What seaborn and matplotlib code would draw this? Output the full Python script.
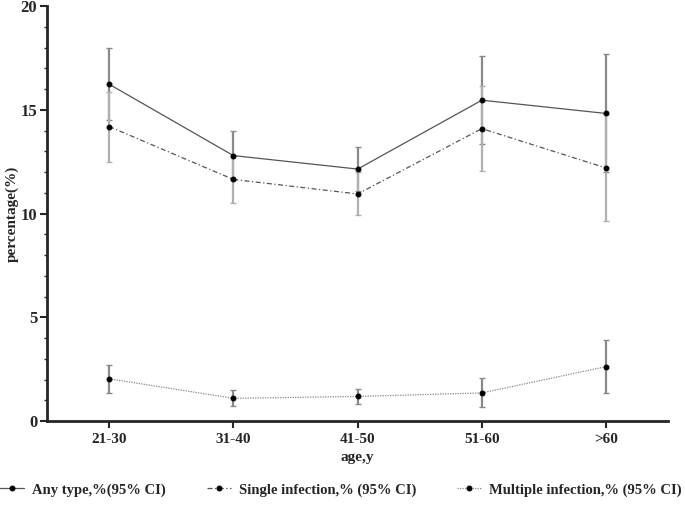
import numpy as np
import pandas as pd
import matplotlib
matplotlib.use("Agg")
import matplotlib.pyplot as plt
from matplotlib.ticker import MultipleLocator
import seaborn as sns

age_groups = ["21-30", "31-40", "41-50", "51-60", ">60"]

any_pct = [16.24, 12.8, 12.15, 15.47, 14.83]
any_lo = [14.5, 11.6, 11.1, 13.35, 12.0]
any_hi = [18.0, 14.0, 13.2, 17.6, 17.68]

single_pct = [14.2, 11.65, 10.95, 14.1, 12.2]
single_lo = [12.5, 10.5, 9.95, 12.05, 9.64]
single_hi = [15.85, 12.8, 12.0, 16.15, 14.8]

multi_pct = [2.04, 1.1, 1.19, 1.36, 2.63]
multi_lo = [1.35, 0.74, 0.83, 0.7, 1.36]
multi_hi = [2.71, 1.5, 1.55, 2.08, 3.89]

labels = ["Any type,%(95% CI)", "Single infection,% (95% CI)", "Multiple infection,% (95% CI)"]

sns.set_theme(style="ticks")
plt.rcParams["font.family"] = ["Liberation Serif", "DejaVu Serif"]
plt.rcParams["font.weight"] = "bold"

series = [
    (labels[0], any_pct, any_lo, any_hi, "-", "#555555", "#8a8a8a"),
    (labels[1], single_pct, single_lo, single_hi, (0, (4, 2, 1, 2)), "#555555", "#b0b0b0"),
    (labels[2], multi_pct, multi_lo, multi_hi, (0, (1, 1)), "#888888", "#8a8a8a"),
]

fig = plt.figure(figsize=(6.85, 5.18), dpi=100)
ax = fig.add_axes([0.0686, 0.187, 0.907, 0.801])
x = np.arange(len(age_groups))

for name, pct, lo, hi, ls, lc, ec in series:
    pct = np.array(pct)
    err = [pct - np.array(lo), np.array(hi) - pct]
    ax.errorbar(x, pct, yerr=err, fmt="none", ecolor=ec, elinewidth=1.6,
                capsize=2.5, capthick=1.0, zorder=2)
    df = pd.DataFrame({"age": x, "pct": pct})
    sns.lineplot(data=df, x="age", y="pct", ax=ax, color=lc, linewidth=0.9,
                 linestyle=ls, marker="o", markersize=3.5, markerfacecolor="black",
                 markeredgecolor="black", label=name, zorder=3)

ax.set_xlim(-0.5, 4.5)
ax.set_ylim(0, 20)
ax.set_xticks(x)
ax.set_xticklabels(age_groups, fontsize=11, fontweight="bold")
ax.yaxis.set_major_locator(MultipleLocator(5))
ax.yaxis.set_minor_locator(MultipleLocator(1))
ax.tick_params(axis="y", labelsize=12, width=1.5, length=5, pad=2)
ax.tick_params(axis="y", which="minor", width=1.0, length=2.5)
ax.tick_params(axis="x", width=1.5, length=5)
for lab in ax.get_yticklabels():
    lab.set_fontweight("bold")
ax.set_xlabel("age,y", fontsize=11, fontweight="bold", labelpad=4)
ax.set_ylabel("percentage(%)", fontsize=11, fontweight="bold", labelpad=1)
sns.despine(ax=ax)
ax.spines["left"].set_linewidth(2)
ax.spines["bottom"].set_linewidth(2)
ax.get_legend().remove()

handles, lbls = ax.get_legend_handles_labels()
fig.legend(handles, lbls, loc="center left", bbox_to_anchor=(0.0, 0.054), ncol=3,
           frameon=False, handlelength=1.65, handletextpad=0.55, columnspacing=2.8,
           borderpad=0, borderaxespad=0, prop={"weight": "bold", "size": 10.5})

fig.savefig("out.png", dpi=100)
